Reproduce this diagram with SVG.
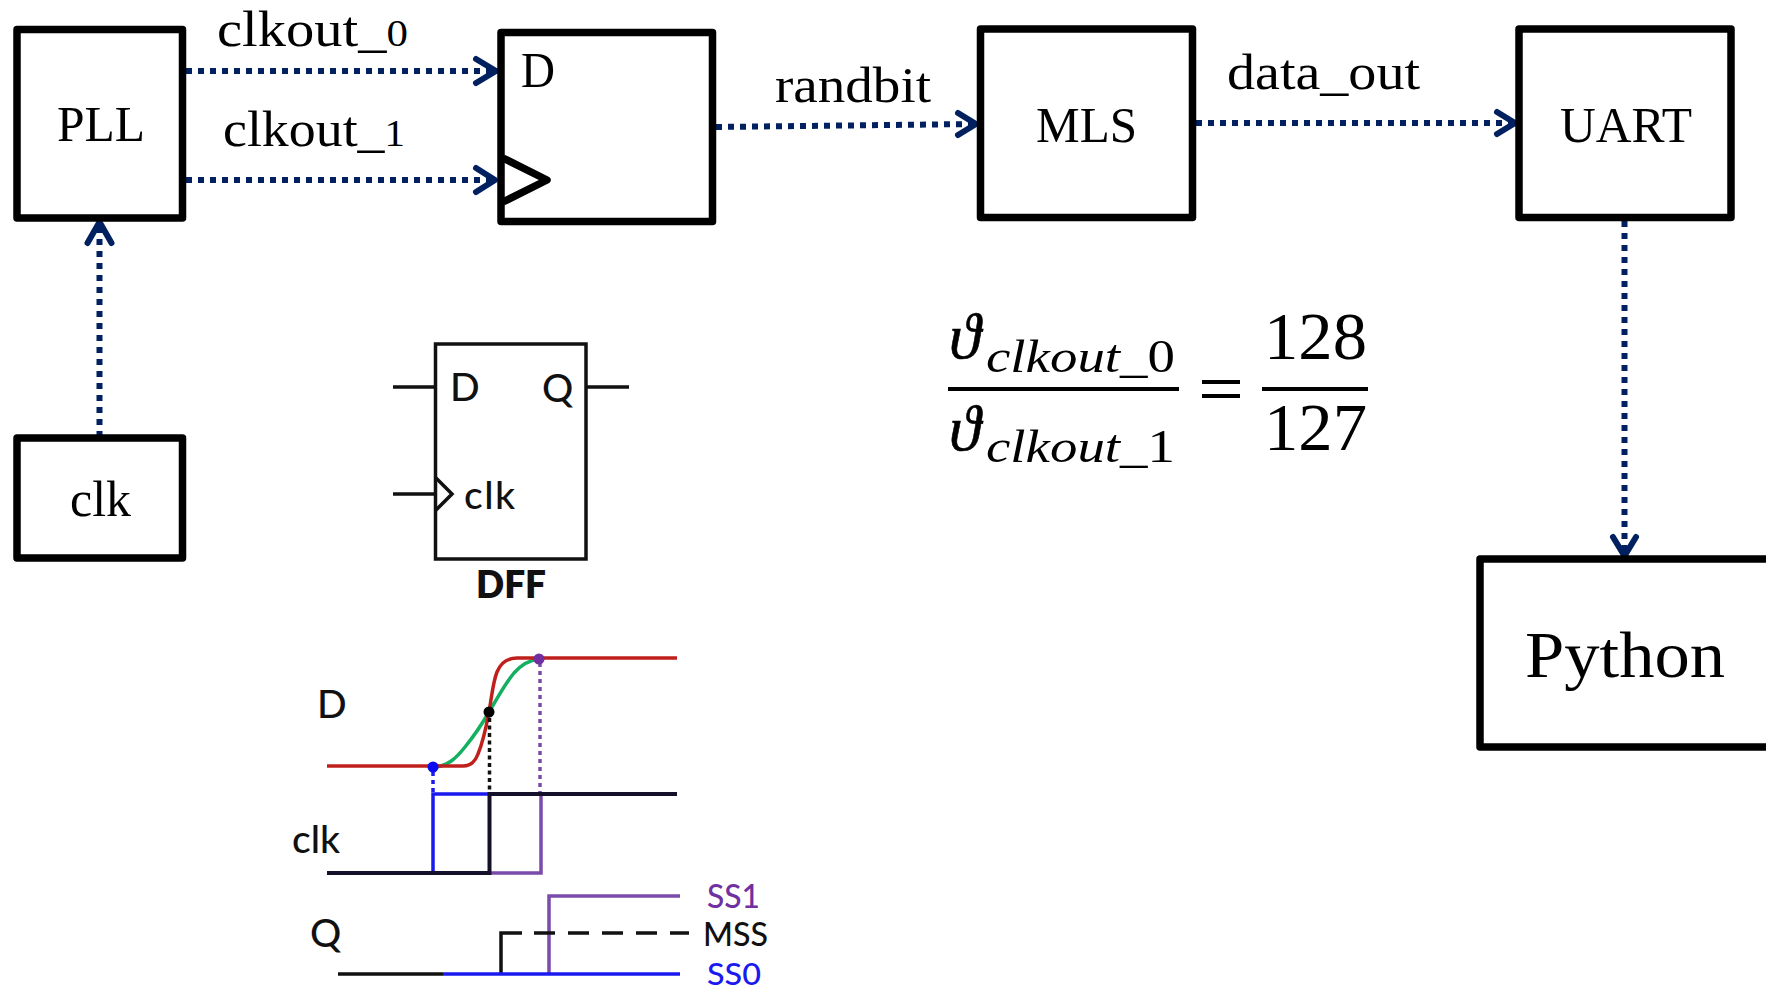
<svg xmlns="http://www.w3.org/2000/svg" width="1766" height="992" viewBox="0 0 1766 992">
<style>
.box{fill:#fff;stroke:#000;stroke-width:7.500;stroke-linejoin:round}
.t{font-family:"Liberation Serif",serif;font-size:50px;fill:#000}
.s{font-family:Lato,"Liberation Sans",sans-serif;font-size:39px;font-weight:500;fill:#111}
.m{font-family:"Liberation Serif","DejaVu Serif",serif;fill:#000}
.w{fill:none;stroke:#111;stroke-width:3.500}
.c{fill:none;stroke:#002060;stroke-width:6;stroke-dasharray:6 6}
.h{fill:none;stroke:#002060;stroke-width:6;stroke-linecap:round;stroke-linejoin:round}
.k{fill:none;stroke:#15102a;stroke-width:4}
.b{fill:none;stroke:#1a1af0;stroke-width:3.500}
.p{fill:none;stroke:#7a4bab;stroke-width:3.500}
</style>
<rect width="1766" height="992" fill="#fff"/>
<g id="connectors">
<path class="c" d="M186 71H495"/><path class="h" d="M476 59L496 71L476 83"/>
<path class="c" d="M186 180H494"/><path class="h" d="M476 168L495 180L476 192"/>
<path class="c" d="M99.500 437V224"/><path class="h" d="M87.500 243L99.500 222L111.500 243"/>
<path class="c" d="M716 127L975 124"/><path class="h" d="M958 113L976 124L958 135"/>
<path class="c" d="M1196 123H1514"/><path class="h" d="M1497 112L1515 123L1497 134"/>
<path class="c" d="M1624.500 221V555"/><path class="h" d="M1613 537L1624.500 556L1636 537"/>
</g>
<g id="pll"><rect class="box" x="17" y="29.500" width="165.500" height="188.500"/><text class="t" x="57" y="141" textLength="88" lengthAdjust="spacingAndGlyphs">PLL</text></g>
<g id="dff-block"><rect class="box" x="501" y="32.500" width="211.500" height="189"/><path class="box" d="M503 158L547 180L503 202" style="fill:none"/><text class="t" x="521" y="87" textLength="34" lengthAdjust="spacingAndGlyphs">D</text></g>
<g id="mls"><rect class="box" x="980.500" y="29" width="212" height="188.500"/><text class="t" x="1036" y="142" textLength="101" lengthAdjust="spacingAndGlyphs">MLS</text></g>
<g id="uart"><rect class="box" x="1519" y="29" width="212" height="188.500"/><text class="t" x="1560" y="142" textLength="132" lengthAdjust="spacingAndGlyphs">UART</text></g>
<g id="clk"><rect class="box" x="17" y="438" width="165.500" height="120"/><text class="t" x="70" y="516" textLength="61" lengthAdjust="spacingAndGlyphs">clk</text></g>
<g id="python"><rect class="box" x="1480" y="559" width="300" height="188"/><text class="t" x="1525" y="677" style="font-size:66px" textLength="200" lengthAdjust="spacingAndGlyphs">Python</text></g>
<g id="labels">
<text class="t" x="217" y="46" textLength="191" lengthAdjust="spacingAndGlyphs">clkout_<tspan font-size="38">0</tspan></text>
<text class="t" x="223" y="146" textLength="182" lengthAdjust="spacingAndGlyphs">clkout_<tspan font-size="38">1</tspan></text>
<text class="t" x="775" y="102" textLength="156" lengthAdjust="spacingAndGlyphs">randbit</text>
<text class="t" x="1227" y="89" textLength="193" lengthAdjust="spacingAndGlyphs">data_out</text>
</g>
<g id="equation">
<path d="M948 389H1179M1262 389H1368" stroke="#000" stroke-width="4" fill="none"/>
<path d="M1202 382H1240M1202 396H1240" stroke="#000" stroke-width="4" fill="none"/>
<text class="m" x="949" y="358" font-size="64" font-style="italic" stroke="#000" stroke-width=".6">ϑ</text>
<text class="m" x="986" y="372" font-size="47" font-style="italic" textLength="189" lengthAdjust="spacingAndGlyphs">clkout_<tspan font-style="normal">0</tspan></text>
<text class="m" x="949" y="450" font-size="64" font-style="italic" stroke="#000" stroke-width=".6">ϑ</text>
<text class="m" x="986" y="462" font-size="47" font-style="italic" textLength="189" lengthAdjust="spacingAndGlyphs">clkout_<tspan font-style="normal">1</tspan></text>
<text class="m" x="1264" y="359" font-size="68" textLength="103" lengthAdjust="spacingAndGlyphs">128</text>
<text class="m" x="1264" y="450" font-size="68" textLength="103" lengthAdjust="spacingAndGlyphs">127</text>
</g>
<g id="dff-symbol">
<rect class="w" x="435.500" y="344" width="150.500" height="215"/>
<path class="w" d="M393 387H435M586 387H629M393 494H435M436 478L452 494L436 510"/>
<text class="s" x="450" y="401">D</text>
<text class="s" x="542" y="402">Q</text>
<text class="s" x="464" y="509" textLength="51">clk</text>
<text class="s" x="476" y="598" style="font-weight:800;font-size:37px">DFF</text>
</g>
<g id="timing">
<path d="M433 767C448 767 457 757 465 747C474 736 482 724 489 712C497 699 504 685 514 673C521 665 530 660 539 659" fill="none" stroke="#12b060" stroke-width="3.500"/>
<path d="M327 766H463C470 766 475 762 478 754C483 742 486 728 489 712C492 695 493 682 497 672C501 662 508 658 517 658H677" fill="none" stroke="#c0201c" stroke-width="3.500"/>
<path class="b" d="M433 772V793" stroke-dasharray="4 4"/>
<path d="M489.500 718V793" fill="none" stroke="#111" stroke-width="3.500" stroke-dasharray="4 3.500"/>
<path class="p" d="M540 663V793" stroke-dasharray="4 4"/>
<path class="b" d="M433 873V794H489"/>
<path class="p" d="M489 873H541V794"/>
<path class="k" d="M327 873H489.500V794H677"/>
<path class="p" d="M549 974V896H680"/>
<path d="M501 974V933H522" fill="none" stroke="#111" stroke-width="3.500"/>
<path d="M534 933H689" fill="none" stroke="#111" stroke-width="3.500" stroke-dasharray="21 13"/>
<path d="M338 974H443" fill="none" stroke="#111" stroke-width="3.500"/>
<path class="b" d="M443 974H680"/>
<circle cx="433" cy="767" r="5.500" fill="#0b0bf0"/>
<circle cx="489" cy="712" r="5.500" fill="#000"/>
<circle cx="539" cy="659" r="5.500" fill="#7030a0"/>
<text class="s" x="317" y="718">D</text>
<text class="s" x="292" y="853" textLength="48">clk</text>
<text class="s" x="310" y="947">Q</text>
<text class="s" x="707" y="908" style="font-size:33px;fill:#7030a0" textLength="53" lengthAdjust="spacingAndGlyphs">SS1</text>
<text class="s" x="703" y="946" style="font-size:33px" textLength="65" lengthAdjust="spacingAndGlyphs">MSS</text>
<text class="s" x="707" y="985" style="font-size:30px;fill:#1a1af0" textLength="54" lengthAdjust="spacingAndGlyphs">SS0</text>
</g>
</svg>
